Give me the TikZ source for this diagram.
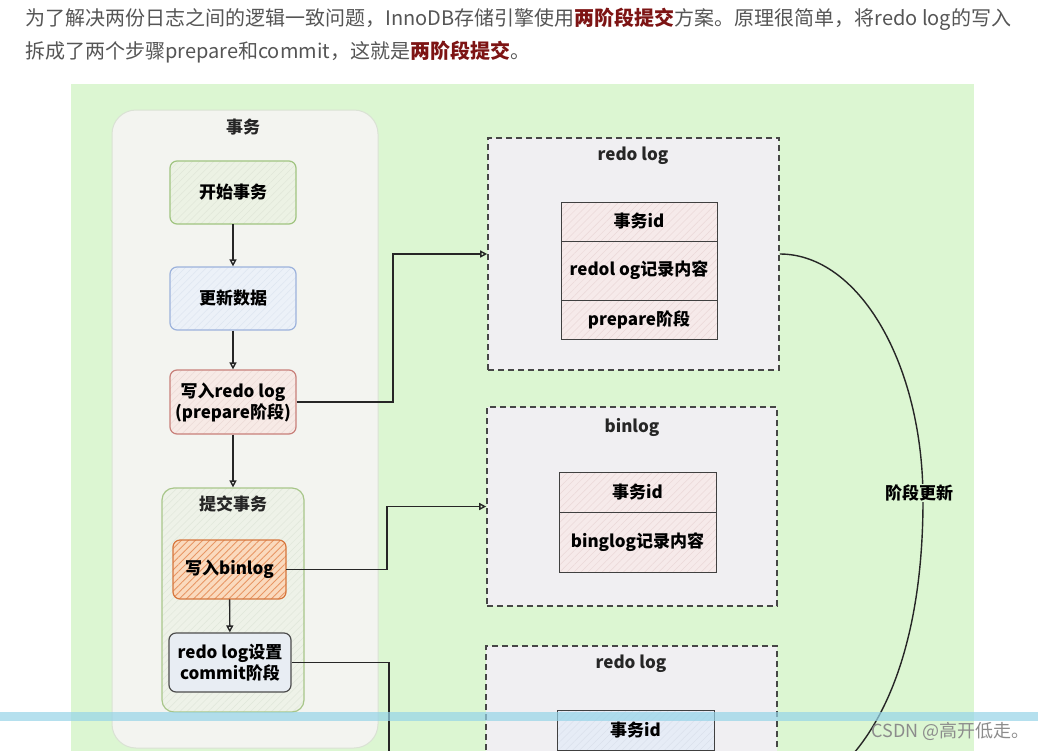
\documentclass[tikz,border=0pt]{standalone}
\usepackage{fontspec}
\setmainfont{Noto Sans CJK SC}
\usetikzlibrary{arrows.meta,patterns.meta}
\definecolor{panel}{RGB}{220,246,210}
\definecolor{outerfill}{RGB}{243,244,240}
\definecolor{outerdraw}{RGB}{218,226,212}
\definecolor{txtgray}{RGB}{85,85,85}
\definecolor{hl}{RGB}{125,20,20}
\definecolor{dashfill}{RGB}{240,239,242}
\definecolor{dashdraw}{RGB}{70,70,70}
\definecolor{gdraw}{RGB}{160,196,128}
\definecolor{gfill}{RGB}{236,242,228}
\definecolor{ghatch}{RGB}{224,231,216}
\definecolor{bdraw}{RGB}{156,178,220}
\definecolor{bfill}{RGB}{236,241,248}
\definecolor{bhatch}{RGB}{222,229,240}
\definecolor{rdraw}{RGB}{200,128,122}
\definecolor{rfill}{RGB}{247,234,230}
\definecolor{rhatch}{RGB}{236,218,214}
\definecolor{cdraw}{RGB}{168,198,138}
\definecolor{cfill}{RGB}{238,242,232}
\definecolor{chatch}{RGB}{224,230,218}
\definecolor{odraw}{RGB}{214,118,60}
\definecolor{ofill}{RGB}{250,218,190}
\definecolor{ohatch}{RGB}{232,150,100}
\definecolor{kfill}{RGB}{232,237,243}
\definecolor{pfill}{RGB}{246,234,234}
\definecolor{phatch}{RGB}{234,216,216}
\definecolor{lbfill}{RGB}{230,236,246}
\definecolor{lbhatch}{RGB}{218,225,236}
\definecolor{band}{RGB}{150,212,232}
\tikzset{
  x=1pt,y=-1pt,
  hatch/.style 2 args={preaction={fill=#1},pattern={Lines[angle=45,distance=5pt,line width=0.5pt]},pattern color=#2},
  stepbox/.style={rounded corners=7pt,line width=1.2pt,minimum width=126pt,minimum height=63pt,font=\bfseries\fontsize{17}{21}\selectfont,align=center,inner sep=2pt},
  logbox/.style={draw=dashdraw,dash pattern=on 6pt off 4pt,line width=1.6pt,fill=dashfill},
  cell/.style={draw=black!75,line width=1pt,minimum width=156pt,font=\bfseries\fontsize{17}{20}\selectfont,hatch={pfill}{phatch}},
  ttl/.style={font=\bfseries\fontsize{17}{20}\selectfont,text=black!85},
  arr/.style={draw=black!85,line width=1.4pt,-{Triangle[open,length=7pt,width=7pt]}},
  conn/.style={draw=black!85,line width=1.4pt},
}
\begin{document}
\begin{tikzpicture}
\clip (0,0) rectangle (1038,750);
\fill[white] (0,0) rectangle (1038,750);
% header text
\node[anchor=west,text=txtgray,font=\fontsize{20}{24}\selectfont,inner sep=0] (l1) at (25,19)
  {为了解决两份日志之间的逻辑一致问题，InnoDB存储引擎使用\textcolor{hl}{\bfseries 两阶段提交}方案。原理很简单，将redo log的写入};
\node[anchor=west,text=txtgray,font=\fontsize{20}{24}\selectfont,inner sep=0] (l2) at (25,52)
  {拆成了两个步骤prepare和commit，这就是\textcolor{hl}{\bfseries 两阶段提交}。};
% green panel
\fill[panel] (71,84) rectangle (974,760);
% transaction container
\node[draw=outerdraw,line width=1pt,fill=outerfill,rounded corners=24pt,minimum width=266pt,minimum height=638pt] (tx) at (245,429) {};
\node[ttl] (txt) at (243,127) {事务};
\node[stepbox,draw=gdraw,hatch={gfill}{ghatch}] (s1) at (233,192.5) {开始事务};
\node[stepbox,draw=bdraw,hatch={bfill}{bhatch}] (s2) at (233,298.5) {更新数据};
\node[stepbox,draw=rdraw,minimum height=64pt,hatch={rfill}{rhatch}] (s3) at (233,402) {写入redo log\\(prepare阶段)};
\node[draw=cdraw,line width=1.2pt,rounded corners=12pt,minimum width=142pt,minimum height=224pt,hatch={cfill}{chatch}] (cm) at (233,600) {};
\node[ttl] (cmt) at (233,504) {提交事务};
\node[stepbox,draw=odraw,minimum width=113pt,minimum height=59pt,preaction={fill=ofill},pattern={Lines[angle=45,distance=5pt,line width=0.9pt]},pattern color=ohatch] (wb) at (229.5,569.5) {写入binlog};
\node[stepbox,draw=black!70,minimum width=122pt,minimum height=59pt,fill=kfill] (rc) at (230,662.5) {redo log设置\\commit阶段};
\draw[arr] (s1) -- (s2);
\draw[arr] (s2) -- (s3);
\draw[arr] (s3) -- (cm);
\draw[arr] (wb) -- (rc);
% redo log box 1
\node[logbox,minimum width=291pt,minimum height=232pt] (rl1) at (633.5,254) {};
\node[ttl] (rl1t) at (633,156) {redo log};
\node[cell,minimum height=39pt] (r1a) at (639,221.5) {事务id};
\node[cell,minimum height=59pt] (r1b) at (639,270.5) {redol og记录内容};
\node[cell,minimum height=39pt] (r1c) at (639,319.5) {prepare阶段};
% binlog box
\node[logbox,minimum width=290pt,minimum height=199pt] (bl) at (632,506.5) {};
\node[ttl] (blt) at (632,427) {binlog};
\node[cell,minimum width=157pt,minimum height=40pt] (b1) at (637.5,492) {事务id};
\node[cell,minimum width=157pt,minimum height=60pt] (b2) at (637.5,542) {binglog记录内容};
% redo log box 3
\node[logbox,minimum width=291pt,minimum height=250pt] (rl3) at (631.5,771) {};
\node[ttl] (rl3t) at (631,664) {redo log};
\node[cell,minimum width=157pt,minimum height=40pt,hatch={lbfill}{lbhatch}] (r3a) at (635.5,730) {事务id};
% connectors
\draw[conn,-{Triangle[open,length=7pt,width=7pt]}] (s3.east) -- (393,402) |- (rl1.west);
\draw[conn,-{Triangle[open,length=7pt,width=7pt]}] (wb.east) -- (387,569.5) |- (bl.west);
\coordinate (cdown) at (389,770);
\draw[conn] (rc.east) -| (cdown);
\coordinate (cmid) at (923,500);
\coordinate (cbot) at (843,765);
\draw[conn] (rl1.east) .. controls (859,254) and (923,364) .. (cmid) .. controls (923,625) and (893,715) .. (cbot);
\node[fill=panel,inner sep=1pt,font=\bfseries\fontsize{17}{20}\selectfont] (lbl) at (919,493) {阶段更新};
% screen artifacts
\fill[band,opacity=0.7] (0,712) rectangle (1038,721);
\node[anchor=east,text=black!45,font=\fontsize{18}{21}\selectfont,inner sep=0] (wm) at (1030,731) {CSDN @高开低走。};
\end{tikzpicture}
\end{document}
